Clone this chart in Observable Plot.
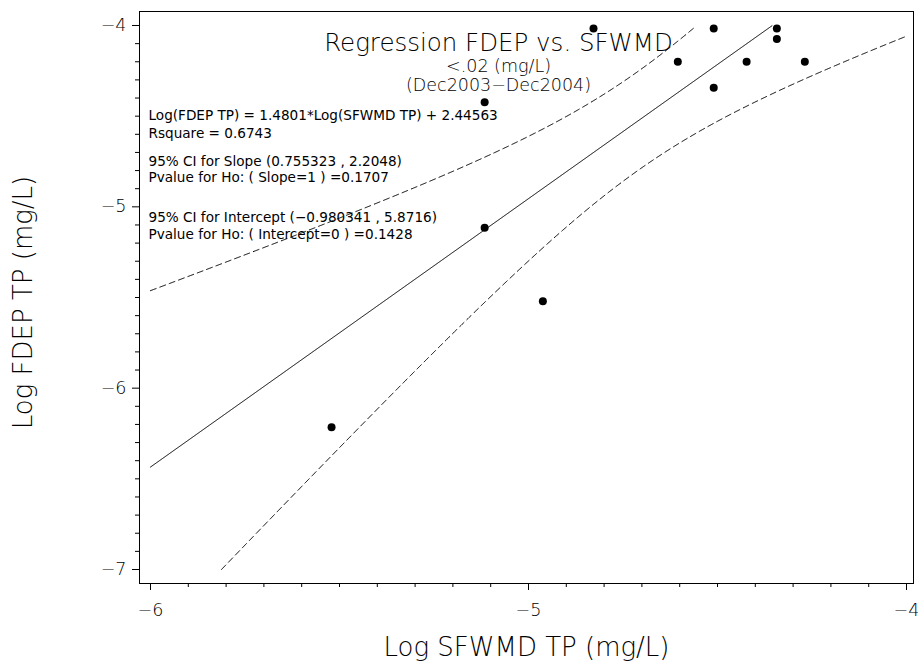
<!DOCTYPE html>
<html><head><meta charset="utf-8">
<script src="https://cdn.jsdelivr.net/npm/d3@7"></script>
<script src="https://cdn.jsdelivr.net/npm/@observablehq/plot@0.6"></script>
<style>body{margin:0;background:#fff}</style>
</head><body><div id="chart"></div>
<script>
// Data (natural-log TP values)
const sfwmdLogTP = [-4.828, -4.510, -4.343, -4.343, -4.605, -4.423, -4.269, -4.510, -5.116, -5.116, -4.962, -5.521];
const fdepLogTP  = [-4.017, -4.017, -4.017, -4.075, -4.200, -4.200, -4.200, -4.343, -4.423, -5.116, -5.521, -6.215];
const slope = 1.4801, intercept = 2.44563, tCrit = 2.228;

const xMajorTicks = [-6, -5, -4];
const yMajorTicks = [-7, -6, -5, -4];
const titleLines = ["Regression FDEP vs. SFWMD", "<.02 (mg/L)", "(Dec2003−Dec2004)"];
const statLines = [
  "Log(FDEP TP) = 1.4801*Log(SFWMD TP) + 2.44563",
  "Rsquare = 0.6743",
  "95% CI for Slope (0.755323 , 2.2048)",
  "Pvalue for Ho: ( Slope=1 ) =0.1707",
  "95% CI for Intercept (−0.980341 , 5.8716)",
  "Pvalue for Ho: ( Intercept=0 ) =0.1428"
];
const xLabel = "Log SFWMD TP (mg/L)";
const yLabel = "Log FDEP TP (mg/L)";

const points = sfwmdLogTP.map((x, i) => ({x, y: fdepLogTP[i]}));

// regression statistics from the data
const n = points.length;
const mx = d3.mean(sfwmdLogTP);
const Sxx = d3.sum(sfwmdLogTP, x => (x - mx) ** 2);
const sse = d3.sum(points, d => (d.y - (slope * d.x + intercept)) ** 2);
const s = Math.sqrt(sse / (n - 2));
const grid = d3.range(0, 1001).map(i => -6 + i * 0.002);
const fit = grid.map(x => ({x, y: slope * x + intercept, h: tCrit * s * Math.sqrt(1 / n + (x - mx) ** 2 / Sxx)}));
const inRange = d => d.y >= -7 && d.y <= -4;
const fitLine = fit.map(d => ({x: d.x, y: d.y})).filter(inRange);
const upper = fit.map(d => ({x: d.x, y: d.y + d.h})).filter(inRange);
const lower = fit.map(d => ({x: d.x, y: d.y - d.h})).filter(inRange);

const xMinor = d3.range(-60, -39).map(v => v / 10).filter(v => !xMajorTicks.includes(v));
const yMinor = d3.range(-70, -39).map(v => v / 10).filter(v => !yMajorTicks.includes(v));

const xDomain = [-6.0291, -3.9815];
const yDomain = [-7.0772, -3.9228];

const bigFont = {fontFamily: "DejaVu Sans", fontWeight: 200};
const smallFont = {fontFamily: "DejaVu Sans", fontWeight: 400};
const fmt = d => (d < 0 ? "−" : "") + Math.abs(d);

const statDy = [108, 126, 154, 170, 210, 227];
const titleDy = [39, 60, 79];
const titleSize = [24.5, 17.5, 17.5];

const marks = [
  Plot.frame({stroke: "black", strokeWidth: 1}),
  Plot.axisX(xMinor, {anchor: "bottom", tickSize: 4, tickFormat: () => "", label: null}),
  Plot.axisX(xMajorTicks, {anchor: "bottom", tickSize: 7, tickPadding: 13, fontSize: 17.5, tickFormat: fmt, label: null, ...bigFont}),
  Plot.axisY(yMinor, {anchor: "left", tickSize: 4, tickFormat: () => "", label: null}),
  Plot.axisY(yMajorTicks, {anchor: "left", tickSize: 7, tickPadding: 6, fontSize: 17.5, tickFormat: fmt, label: null, ...bigFont}),
  Plot.line(fitLine, {x: "x", y: "y", stroke: "black", strokeWidth: 1}),
  Plot.line(upper, {x: "x", y: "y", stroke: "black", strokeWidth: 1, strokeDasharray: "6,4"}),
  Plot.line(lower, {x: "x", y: "y", stroke: "black", strokeWidth: 1, strokeDasharray: "6,4"}),
  Plot.dot(points, {x: "x", y: "y", r: 4, fill: "black", stroke: null}),
  Plot.text([xLabel], {frameAnchor: "bottom", lineAnchor: "bottom", dy: 72, fontSize: 26, fill: "black", ...bigFont}),
  Plot.text([yLabel], {x: () => xDomain[0], y: () => d3.mean(yDomain), dx: -116, dy: 5, lineAnchor: "middle", textAnchor: "middle", rotate: -90, fontSize: 26, fill: "black", ...bigFont})
];
titleLines.forEach((t, i) => marks.push(
  Plot.text([t], {frameAnchor: "top", lineAnchor: "bottom", dx: -28, dy: titleDy[i], fontSize: titleSize[i], fill: "black", ...bigFont})
));
statLines.forEach((t, i) => marks.push(
  Plot.text([t], {frameAnchor: "top-left", textAnchor: "start", lineAnchor: "bottom", dx: 9, dy: statDy[i], fontSize: 13.6, fill: "black", ...smallFont})
));

const chart = Plot.plot({
  width: 918, height: 667,
  marginLeft: 139, marginRight: 5, marginTop: 11, marginBottom: 84,
  x: {domain: xDomain},
  y: {domain: yDomain},
  style: {background: "white", color: "black", fontFamily: "DejaVu Sans"},
  marks
});
document.getElementById("chart").appendChild(chart);
</script>
</body></html>
